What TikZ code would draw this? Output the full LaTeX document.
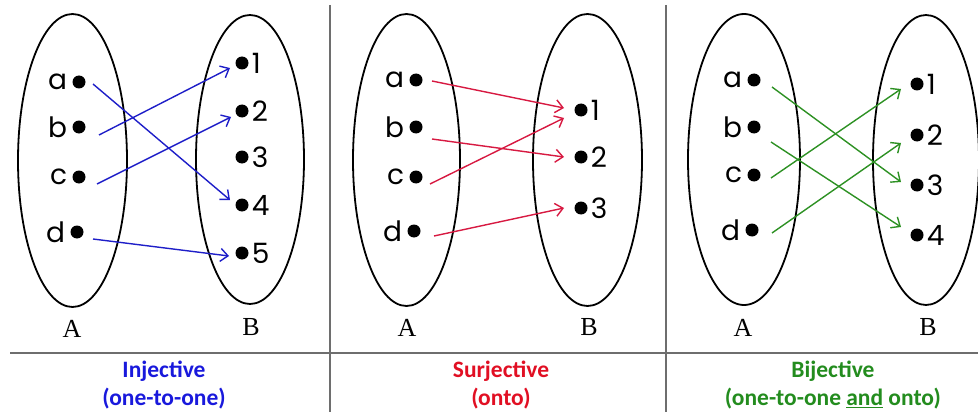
\documentclass[tikz,border=0pt]{standalone}
\usepackage{fontspec}
\setmainfont{Liberation Serif}
\newfontfamily\elemfont{Poppins}
\newfontfamily\capfont{Carlito}
\usetikzlibrary{shapes.geometric,arrows.meta,calc}
\definecolor{injblue}{RGB}{30,30,200}
\definecolor{injtext}{RGB}{25,25,220}
\definecolor{surred}{RGB}{215,25,65}
\definecolor{surtext}{RGB}{225,15,35}
\definecolor{bijgreen}{RGB}{45,145,35}
\definecolor{bijtext}{RGB}{35,140,30}
\definecolor{rulegray}{RGB}{110,110,110}
\begin{document}
\begin{tikzpicture}[x=1pt,y=-1pt,
  setshape/.style={draw,ellipse,line width=1.8pt,minimum width=108pt,minimum height=292pt,inner sep=0pt},
  elem/.style={circle,fill=black,minimum size=13pt,inner sep=0pt},
  elemtext/.style={font=\elemfont\fontsize{28}{28}\selectfont,inner sep=0pt},
  dom/.style={label={[elemtext,label distance=5pt]left:#1}},
  cod/.style={label={[elemtext,label distance=3pt]right:#1}},
  setname/.style={font=\fontsize{26}{26}\selectfont,inner sep=0pt},
  fun/.style={line width=1.4pt,-{Straight Barb[length=7.5pt,width=13pt]}},
  rule/.style={draw=rulegray,line width=1.2pt},
  caption/.style={font=\capfont\bfseries\fontsize{23.5}{28}\selectfont,align=center,inner sep=0pt}
]
\useasboundingbox (0,0) rectangle (978,412);

% frame rules
\draw[rule] (330,5) -- (330,412);
\draw[rule] (666,5) -- (666,412);
\draw[rule] (10,353) -- (978,353);

% ---------- injective ----------
\node[setshape,minimum width=109pt,minimum height=293pt] (iA) at (72.5,160.5) {};
\node[setshape,minimum height=289pt] (iB) at (250,159.5) {};
\node[setname] (iAname) at (72,329) {A};
\node[setname] (iBname) at (251,327) {B};
\node[elem,dom=a] (ia) at (79,82) {};
\node[elem,dom=b] (ib) at (79,127) {};
\node[elem,dom=c] (ic) at (79,177) {};
\node[elem,dom=d] (id) at (77,232) {};
\node[elem,cod=1] (i1) at (242,63) {};
\node[elem,cod=2] (i2) at (242,111) {};
\node[elem,cod=3] (i3) at (242,157) {};
\node[elem,cod=4] (i4) at (242,205) {};
\node[elem,cod=5] (i5) at (242,253) {};
\draw[fun,injblue] ($(ia)+(14,2)$) -- ($(i4)+(-12,-5)$);
\draw[fun,injblue] ($(ib)+(20,8)$) -- ($(i1)+(-12,5)$);
\draw[fun,injblue] ($(ic)+(18,7)$) -- ($(i2)+(-11,6)$);
\draw[fun,injblue] ($(id)+(16,7)$) -- ($(i5)+(-13,3)$);
\node[caption,text=injtext] (icap) at (164,385) {Injective\\(one-to-one)};

% ---------- surjective ----------
\node[setshape,minimum width=107pt,minimum height=292pt] (sA) at (406.5,160) {};
\node[setshape,minimum width=109pt,minimum height=292pt] (sB) at (587.5,160) {};
\node[setname] (sAname) at (407,328) {A};
\node[setname] (sBname) at (589,327) {B};
\node[elem,dom=a] (sa) at (416,80) {};
\node[elem,dom=b] (sb) at (416,127) {};
\node[elem,dom=c] (sc) at (416,177) {};
\node[elem,dom=d] (sd) at (414,231) {};
\node[elem,cod=1] (s1) at (581,110) {};
\node[elem,cod=2] (s2) at (581,157) {};
\node[elem,cod=3] (s3) at (581,208) {};
\draw[fun,surred] ($(sa)+(16,1)$) -- ($(s1)+(-17,-2)$);
\draw[fun,surred] ($(sb)+(16,12)$) -- ($(s2)+(-17,0)$);
\draw[fun,surred] ($(sc)+(14,7)$) -- ($(s1)+(-17,8)$);
\draw[fun,surred] ($(sd)+(20,5)$) -- ($(s3)+(-17,0)$);
\node[caption,text=surtext] (scap) at (501,385) {Surjective\\(onto)};

% ---------- bijective ----------
\node[setshape,minimum width=112pt,minimum height=291pt] (bA) at (744,159.5) {};
\node[setshape,minimum width=106pt,minimum height=290pt] (bB) at (926,160) {};
\node[setname] (bAname) at (743,328) {A};
\node[setname] (bBname) at (928,327) {B};
\node[elem,dom=a] (ba) at (754,80) {};
\node[elem,dom=b] (bb) at (754,127) {};
\node[elem,dom=c] (bc) at (754,175) {};
\node[elem,dom=d] (bd) at (752,230) {};
\node[elem,cod=1] (b1) at (917,84) {};
\node[elem,cod=2] (b2) at (917,135) {};
\node[elem,cod=3] (b3) at (917,185) {};
\node[elem,cod=4] (b4) at (917,235) {};
\draw[fun,bijgreen] ($(ba)+(18,7)$) -- ($(b3)+(-16,-3)$);
\draw[fun,bijgreen] ($(bb)+(17,15)$) -- ($(b4)+(-16,-8)$);
\draw[fun,bijgreen] ($(bc)+(17,3)$) -- ($(b1)+(-16,5)$);
\draw[fun,bijgreen] ($(bd)+(20,3)$) -- ($(b2)+(-16,8)$);
\node[caption,text=bijtext] (bcap) at (833,385) {Bijective\\(one-to-one \underline{and} onto)};
\end{tikzpicture}
\end{document}
